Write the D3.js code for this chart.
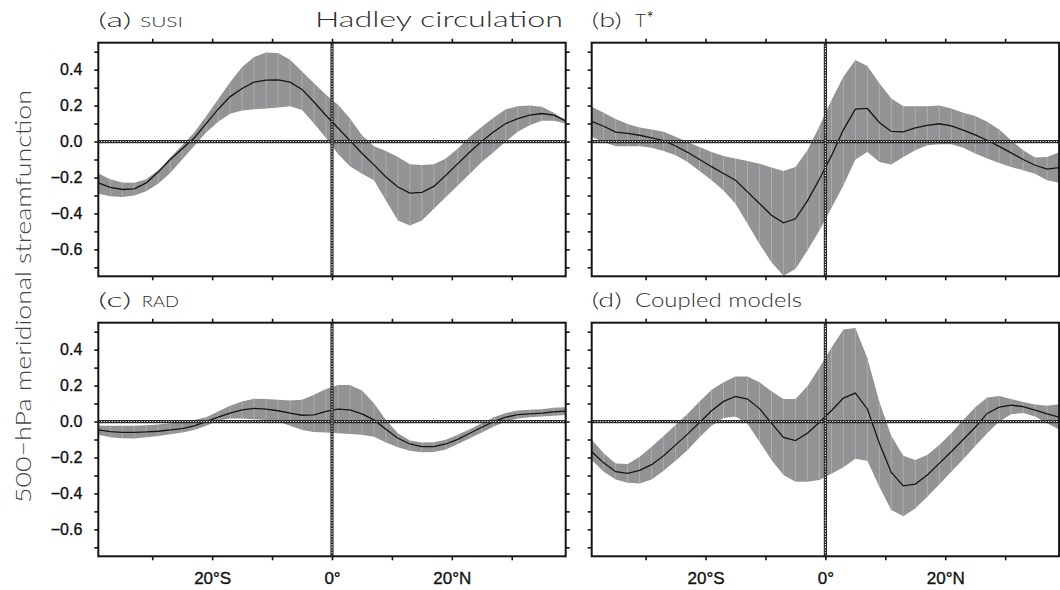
<!DOCTYPE html>
<html>
<head>
<meta charset="utf-8">
<script src="https://cdn.jsdelivr.net/npm/d3@7"></script>
<style>
  body { margin: 0; background: #fff; }
  svg { display: block; }
</style>
</head>
<body>
<svg id="chart" width="1060" height="590"></svg>
<script>
// Latitude grid (degrees, negative = south)
const lat = [-39,-37,-35,-33,-31,-29,-27,-25,-23,-21,-19,-17,-15,-13,-11,-9,-7,-5,-3,-1,
             1,3,5,7,9,11,13,15,17,19,21,23,25,27,29,31,33,35,37,39];

// (a) SUSI: ensemble mean and spread of the 500-hPa streamfunction
const susiMean = [-0.23,-0.255,-0.267,-0.263,-0.23,-0.17,-0.10,-0.04,0.02,0.10,0.18,0.25,0.295,0.33,0.342,0.343,0.33,0.29,0.22,0.145,
                  0.075,0.005,-0.065,-0.13,-0.197,-0.253,-0.287,-0.283,-0.25,-0.188,-0.123,-0.058,0.002,0.054,0.10,0.128,0.147,0.156,0.147,0.115];
const susiLow  = [-0.29,-0.305,-0.309,-0.30,-0.276,-0.235,-0.175,-0.10,-0.025,0.05,0.11,0.155,0.172,0.18,0.184,0.19,0.197,0.175,0.10,0.02,
                  -0.07,-0.138,-0.179,-0.216,-0.328,-0.44,-0.467,-0.44,-0.374,-0.309,-0.244,-0.179,-0.114,-0.058,0.0,0.054,0.091,0.115,0.115,0.10];
const susiHigh = [-0.178,-0.21,-0.228,-0.23,-0.21,-0.16,-0.09,-0.02,0.05,0.14,0.235,0.33,0.415,0.47,0.495,0.493,0.455,0.39,0.325,0.26,
                  0.205,0.128,0.035,-0.026,-0.052,-0.086,-0.127,-0.13,-0.127,-0.095,-0.039,0.026,0.082,0.134,0.179,0.197,0.201,0.194,0.16,0.119];

// (b) T*
const tstarMean = [0.112,0.085,0.052,0.045,0.035,0.02,0.005,-0.025,-0.06,-0.10,-0.14,-0.178,-0.215,-0.28,-0.345,-0.41,-0.452,-0.43,-0.33,-0.21,
                   -0.08,0.065,0.18,0.184,0.106,0.056,0.054,0.076,0.09,0.099,0.087,0.064,0.037,0.007,-0.027,-0.063,-0.10,-0.132,-0.153,-0.145];
const tstarLow  = [0.026,-0.002,-0.026,-0.026,-0.026,-0.034,-0.052,-0.076,-0.114,-0.164,-0.216,-0.272,-0.346,-0.458,-0.57,-0.672,-0.747,-0.709,-0.607,-0.495,
                   -0.37,-0.244,-0.10,-0.058,-0.114,-0.128,-0.086,-0.048,-0.02,-0.015,-0.015,-0.034,-0.067,-0.095,-0.119,-0.142,-0.16,-0.179,-0.216,-0.23];
const tstarHigh = [0.194,0.16,0.125,0.097,0.078,0.067,0.054,0.026,-0.002,-0.03,-0.058,-0.08,-0.095,-0.108,-0.123,-0.145,-0.164,-0.142,-0.048,0.085,
                   0.23,0.36,0.454,0.421,0.324,0.24,0.197,0.197,0.197,0.201,0.184,0.16,0.142,0.11,0.067,0.007,-0.048,-0.089,-0.086,-0.06];

// (c) RAD
const radMean = [-0.047,-0.056,-0.06,-0.06,-0.058,-0.054,-0.047,-0.039,-0.024,0.0,0.024,0.047,0.065,0.073,0.069,0.06,0.047,0.035,0.037,0.056,
                 0.069,0.065,0.043,0.009,-0.043,-0.093,-0.125,-0.14,-0.14,-0.125,-0.099,-0.065,-0.032,0.0,0.024,0.039,0.043,0.047,0.054,0.058];
const radLow  = [-0.074,-0.088,-0.093,-0.095,-0.088,-0.08,-0.071,-0.061,-0.047,-0.024,0.006,0.017,0.017,0.013,0.009,0.0,-0.024,-0.047,-0.058,-0.061,
                 -0.065,-0.069,-0.074,-0.084,-0.117,-0.143,-0.162,-0.171,-0.169,-0.155,-0.125,-0.093,-0.061,-0.028,0.0,0.017,0.024,0.028,0.032,0.037];
const radHigh = [-0.024,-0.024,-0.024,-0.024,-0.02,-0.017,-0.009,-0.002,0.008,0.024,0.056,0.088,0.112,0.127,0.125,0.121,0.117,0.121,0.149,0.181,
                 0.203,0.203,0.173,0.102,0.009,-0.065,-0.106,-0.117,-0.115,-0.102,-0.074,-0.043,-0.009,0.024,0.047,0.061,0.065,0.069,0.076,0.08];

// (d) Coupled models
const cplMean = [-0.168,-0.23,-0.279,-0.289,-0.272,-0.24,-0.19,-0.13,-0.07,-0.005,0.06,0.112,0.14,0.125,0.072,-0.009,-0.088,-0.106,-0.065,-0.004,
                 0.06,0.13,0.158,0.07,-0.121,-0.283,-0.358,-0.348,-0.298,-0.233,-0.168,-0.10,-0.032,0.045,0.08,0.091,0.083,0.063,0.042,0.024];
const cplLow  = [-0.214,-0.279,-0.322,-0.341,-0.345,-0.322,-0.274,-0.218,-0.158,-0.088,-0.024,0.019,0.028,-0.013,-0.112,-0.214,-0.298,-0.335,-0.335,-0.326,
                 -0.29,-0.255,-0.207,-0.218,-0.363,-0.493,-0.527,-0.484,-0.419,-0.35,-0.279,-0.21,-0.136,-0.065,0.0,0.041,0.047,0.028,-0.009,-0.045];
const cplHigh = [-0.102,-0.177,-0.233,-0.236,-0.196,-0.14,-0.08,-0.019,0.043,0.112,0.177,0.218,0.251,0.251,0.218,0.168,0.125,0.125,0.196,0.30,
                 0.41,0.512,0.521,0.354,0.11,-0.08,-0.19,-0.214,-0.186,-0.13,-0.065,0.009,0.08,0.134,0.142,0.125,0.108,0.095,0.088,0.096];

// Axis ticks and labels
const yTicks = [-0.7,-0.6,-0.5,-0.4,-0.3,-0.2,-0.1,0.0,0.1,0.2,0.3,0.4,0.5];
const yLabelValues = [-0.6,-0.4,-0.2,0.0,0.2,0.4];
const yLabels = ["\u22120.6","\u22120.4","\u22120.2","0.0","0.2","0.4"];
const xTicks = [-30,-20,-10,0,10,20,30];
const xLabelValues = [-20,0,20];
const xLabels = ["20\u00B0S","0\u00B0","20\u00B0N"];

const panels = [
  {tag:"(a)", name:"SUSI", nameSize:14, nameLen:43, mean:susiMean, low:susiLow, high:susiHigh, left:98.3, top:42.7, yLab:true, xLab:false},
  {tag:"(b)", name:"T", nameSize:18, nameLen:11, sup:"*", mean:tstarMean, low:tstarLow, high:tstarHigh, left:591.7, top:42.7, yLab:false, xLab:false},
  {tag:"(c)", name:"RAD", nameSize:15, nameLen:37, mean:radMean, low:radLow, high:radHigh, left:98.3, top:322.7, yLab:true, xLab:true},
  {tag:"(d)", name:"Coupled models", nameSize:19, nameLen:167, mean:cplMean, low:cplLow, high:cplHigh, left:591.7, top:322.7, yLab:false, xLab:true}
];

const W = 467.4, H = 233.6;
const svg = d3.select("#chart");
const thinFont = "'Lato', 'Open Sans', 'DejaVu Sans', sans-serif";
const tickFont = "'Liberation Sans', Arial, sans-serif";

function labelFor(values, labels) {
  return d => {
    const i = values.findIndex(v => Math.abs(v - d) < 1e-9);
    return i >= 0 ? labels[i] : "";
  };
}

panels.forEach((p, pi) => {
  const x = d3.scaleLinear().domain([-39, 39]).range([p.left, p.left + W]);
  const y = d3.scaleLinear().domain([-0.75, 0.55]).range([p.top + H, p.top]);
  const rows = lat.map((la, i) => ({lat: la, m: p.mean[i], lo: p.low[i], hi: p.high[i]}));

  const clipId = "clip" + pi;
  svg.append("clipPath").attr("id", clipId)
    .append("rect").attr("x", p.left).attr("y", p.top).attr("width", W).attr("height", H);

  const g = svg.append("g").attr("clip-path", `url(#${clipId})`);

  // spread band
  g.append("path").datum(rows)
    .attr("d", d3.area().x(d => x(d.lat)).y0(d => y(d.lo)).y1(d => y(d.hi)))
    .attr("fill", "#939395");

  // light seams at each grid latitude
  g.selectAll("line.seam").data(rows.slice(1, -1)).join("line")
    .attr("class", "seam")
    .attr("x1", d => x(d.lat)).attr("x2", d => x(d.lat))
    .attr("y1", d => y(d.lo)).attr("y2", d => y(d.hi))
    .attr("stroke", "#b4b4b6").attr("stroke-width", 0.8);

  // ensemble mean
  g.append("path").datum(rows)
    .attr("d", d3.line().x(d => x(d.lat)).y(d => y(d.m)))
    .attr("fill", "none").attr("stroke", "#151515").attr("stroke-width", 1.3);

  // dotted zero lines
  const zeroLines = [
    {x1: p.left, x2: p.left + W, y1: y(0), y2: y(0)},
    {x1: x(0), x2: x(0), y1: p.top, y2: p.top + H}
  ];
  zeroLines.forEach(z => {
    g.append("line").attr("x1", z.x1).attr("x2", z.x2).attr("y1", z.y1).attr("y2", z.y2)
      .attr("stroke", "#2a2a2a").attr("stroke-width", 3.2);
    g.append("line").attr("x1", z.x1).attr("x2", z.x2).attr("y1", z.y1).attr("y2", z.y2)
      .attr("stroke", "#ffffff").attr("stroke-width", 1.1).attr("stroke-dasharray", "1.1,1.6");
  });

  // frame
  svg.append("rect").attr("x", p.left).attr("y", p.top).attr("width", W).attr("height", H)
    .attr("fill", "none").attr("stroke", "#151515").attr("stroke-width", 2);

  // axes (outward ticks on all four sides)
  const styleAxis = (sel, size) => {
    sel.select(".domain").remove();
    sel.selectAll(".tick line").attr("stroke", "#151515").attr("stroke-width", 1.6);
    sel.selectAll(".tick text").attr("fill", "#111")
      .attr("stroke", "#111").attr("stroke-width", 0.35)
      .style("font-family", tickFont).style("font-size", size + "px");
  };

  svg.append("g").attr("transform", `translate(${p.left},0)`)
    .call(d3.axisLeft(y).tickValues(yTicks).tickSize(4).tickPadding(12)
      .tickFormat(p.yLab ? labelFor(yLabelValues, yLabels) : () => ""))
    .call(s => styleAxis(s, 16));
  svg.append("g").attr("transform", `translate(${p.left + W},0)`)
    .call(d3.axisRight(y).tickValues(yTicks).tickSize(4).tickFormat(() => ""))
    .call(s => styleAxis(s, 16));
  svg.append("g").attr("transform", `translate(0,${p.top})`)
    .call(d3.axisTop(x).tickValues(xTicks).tickSize(4).tickFormat(() => ""))
    .call(s => styleAxis(s, 16));
  svg.append("g").attr("transform", `translate(0,${p.top + H})`)
    .call(d3.axisBottom(x).tickValues(xTicks).tickSize(4).tickPadding(12)
      .tickFormat(p.xLab ? labelFor(xLabelValues, xLabels) : () => ""))
    .call(s => styleAxis(s, 17));

  // panel labels
  const base = p.top - 15.7;
  svg.append("text").attr("x", p.left).attr("y", base)
    .attr("textLength", pi % 2 === 0 ? 33 : 30).attr("lengthAdjust", "spacingAndGlyphs")
    .style("font-family", thinFont).style("font-weight", 300).style("font-size", "19px")
    .attr("fill", "#2e2e2e").text(p.tag);
  const nameX = pi % 2 === 0 ? p.left + (p.name === "RAD" ? 43.5 : 41.7) : p.left + 43.3;
  svg.append("text").attr("x", nameX).attr("y", base)
    .attr("textLength", p.nameLen).attr("lengthAdjust", "spacingAndGlyphs")
    .style("font-family", thinFont).style("font-weight", 300).style("font-size", p.nameSize + "px")
    .attr("fill", "#2e2e2e").text(p.name);
  if (p.sup) {
    svg.append("text").attr("x", nameX + p.nameLen + 0.5).attr("y", base - 3)
      .style("font-family", thinFont).style("font-size", "17px")
      .attr("fill", "#2e2e2e").text(p.sup);
  }
});

// figure title
svg.append("text").attr("x", 315).attr("y", 27)
  .attr("textLength", 248).attr("lengthAdjust", "spacingAndGlyphs")
  .style("font-family", thinFont).style("font-weight", 300).style("font-size", "21px")
  .attr("fill", "#2e2e2e").text("Hadley  circulation");

// shared y-axis title
svg.append("text").attr("transform", "translate(30.5,296.5) rotate(-90)")
  .attr("text-anchor", "middle")
  .attr("textLength", 413).attr("lengthAdjust", "spacingAndGlyphs")
  .style("font-family", thinFont).style("font-weight", 300).style("font-size", "22px")
  .attr("fill", "#444").text("500\u2212hPa  meridional  streamfunction");
</script>
</body>
</html>
